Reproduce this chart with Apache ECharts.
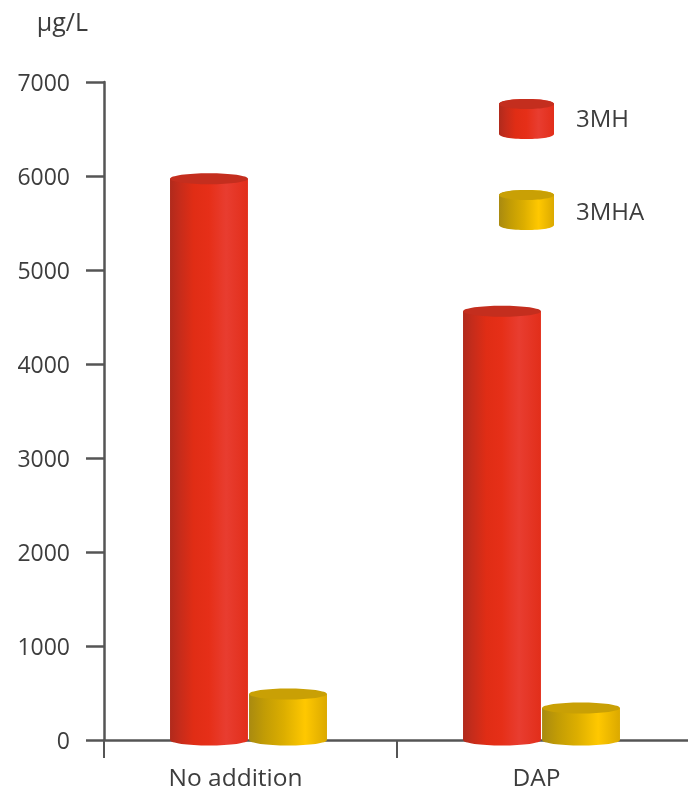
<!DOCTYPE html>
<html>
<head>
<meta charset="utf-8">
<style>html,body{margin:0;padding:0;background:#fff;overflow:hidden}#c{width:690px;height:791px}</style>
<script src="https://cdn.jsdelivr.net/npm/echarts@6/dist/echarts.min.js"></script>
</head>
<body>
<div id="c"></div>
<script>
// Thiol concentrations per treatment, in µg/L
const categories = ['No addition', 'DAP'];
const values3MH = [5970, 4560];
const values3MHA = [490, 340];
const yTicks = [0, 1000, 2000, 3000, 4000, 5000, 6000, 7000];

const FONT = '"Open Sans", sans-serif';
const TEXT = '#3d3d3d';
const AXIS = '#555555';

const sideShade = (stops) => ({
  type: 'linear', x: 0, y: 0, x2: 1, y2: 0,
  colorStops: stops.map(([offset, color]) => ({ offset, color }))
});
const redShade = sideShade([[0, '#b02a1c'], [0.12, '#c52c1b'], [0.3, '#e02d15'], [0.5, '#e62f18'], [0.72, '#e83d30'], [1, '#e22e1a']]);
const yellowShade = sideShade([[0, '#a98a10'], [0.2, '#c29c05'], [0.45, '#dcae00'], [0.72, '#ffc800'], [1, '#dba900']]);
const redCap = '#c42e1e';
const yellowCap = '#c9a005';

// Cylinder: a shaded body with a curved foot and a darker elliptical lid
function cylinder(shade, cap, side) {
  return function (params, api) {
    const bandWidth = api.size([1, 0])[0];
    const barWidth = bandWidth * 0.266;
    const top = api.coord([api.value(0), api.value(1)]);
    const base = api.coord([api.value(0), 0]);
    const cx = top[0] - 2 + side * barWidth * 0.507;
    const rx = barWidth / 2;
    const ry = 5.5;
    return {
      type: 'group',
      children: [
        { type: 'ellipse', shape: { cx, cy: base[1], rx, ry }, style: { fill: shade } },
        { type: 'rect', shape: { x: cx - rx, y: top[1], width: barWidth, height: base[1] - top[1] }, style: { fill: shade } },
        { type: 'ellipse', shape: { cx, cy: top[1], rx, ry }, style: { fill: cap } }
      ]
    };
  };
}

// Legend swatch outline, built from Bezier curves so its bounds stay exact
const cylinderIcon = 'path://M0 5 C0 2 12 0 27.5 0 C43 0 55 2 55 5 L55 35 C55 38 43 40 27.5 40 C12 40 0 38 0 35 Z';

const chart = echarts.init(document.getElementById('c'), null, { renderer: 'canvas' });
chart.setOption({
  animation: false,
  backgroundColor: '#ffffff',
  grid: { left: 104, right: 0, top: 82, bottom: 51, containLabel: false, outerBoundsMode: 'none' },
  legend: {
    orient: 'vertical',
    left: 499,
    top: 99,
    padding: 0,
    itemWidth: 55,
    itemHeight: 40,
    itemGap: 51,
    selectedMode: false,
    formatter: (name) => (name === '3MH' ? '{upper|' + name + '}' : '{lower|' + name + '}'),
    textStyle: {
      fontFamily: FONT, fontSize: 24, color: TEXT,
      rich: {
        upper: { fontFamily: FONT, fontSize: 24, color: TEXT, padding: [3, 0, 0, 17] },
        lower: { fontFamily: FONT, fontSize: 24, color: TEXT, padding: [6, 0, 0, 17] }
      }
    },
    data: [
      { name: '3MH', icon: cylinderIcon, itemStyle: { color: redShade } },
      { name: '3MHA', icon: cylinderIcon, itemStyle: { color: yellowShade } }
    ]
  },
  xAxis: {
    type: 'category',
    data: categories,
    axisLine: { lineStyle: { color: AXIS, width: 2.5 } },
    axisTick: { show: true, length: 18, alignWithLabel: false, lineStyle: { color: AXIS, width: 2 } },
    axisLabel: {
      margin: 27,
      color: TEXT,
      formatter: (v, i) => (i === 0 ? '{first|' + v + '}' : '{second|' + v + '}'),
      rich: {
        first: { fontFamily: FONT, fontSize: 24.5, color: TEXT, padding: [0, 30, 0, 0] },
        second: { fontFamily: FONT, fontSize: 24.5, color: TEXT, padding: [0, 14, 0, 0] }
      }
    }
  },
  yAxis: {
    type: 'value',
    min: 0,
    max: 7000,
    interval: 1000,
    name: 'µg/L',
    nameLocation: 'end',
    nameGap: 46,
    nameTextStyle: { fontFamily: FONT, fontSize: 25, color: TEXT, align: 'right', padding: [0, 16, 0, 0] },
    splitLine: { show: false },
    axisLine: { show: true, onZero: false, lineStyle: { color: AXIS, width: 2.5 } },
    axisTick: { show: true, length: 18, lineStyle: { color: AXIS, width: 2.5 } },
    axisLabel: {
      margin: 34,
      formatter: (v) => (yTicks.includes(v) ? '{tick|' + v + '}' : ''),
      rich: { tick: { fontFamily: FONT, fontSize: 23, color: TEXT, padding: [4, 0, 0, 0] } }
    }
  },
  series: [
    {
      name: '3MH',
      type: 'custom',
      renderItem: cylinder(redShade, redCap, -1),
      itemStyle: { color: redShade },
      encode: { x: 0, y: 1 },
      data: categories.map((c, i) => [i, values3MH[i]])
    },
    {
      name: '3MHA',
      type: 'custom',
      renderItem: cylinder(yellowShade, yellowCap, 1),
      itemStyle: { color: yellowShade },
      encode: { x: 0, y: 1 },
      data: categories.map((c, i) => [i, values3MHA[i]])
    }
  ],
  // Darker lids on the two legend swatches
  graphic: [
    { type: 'ellipse', z: 100, shape: { cx: 526.5, cy: 104, rx: 27.5, ry: 5 }, style: { fill: redCap } },
    { type: 'ellipse', z: 100, shape: { cx: 526.5, cy: 195, rx: 27.5, ry: 5 }, style: { fill: yellowCap } }
  ]
});
</script>
</body>
</html>
